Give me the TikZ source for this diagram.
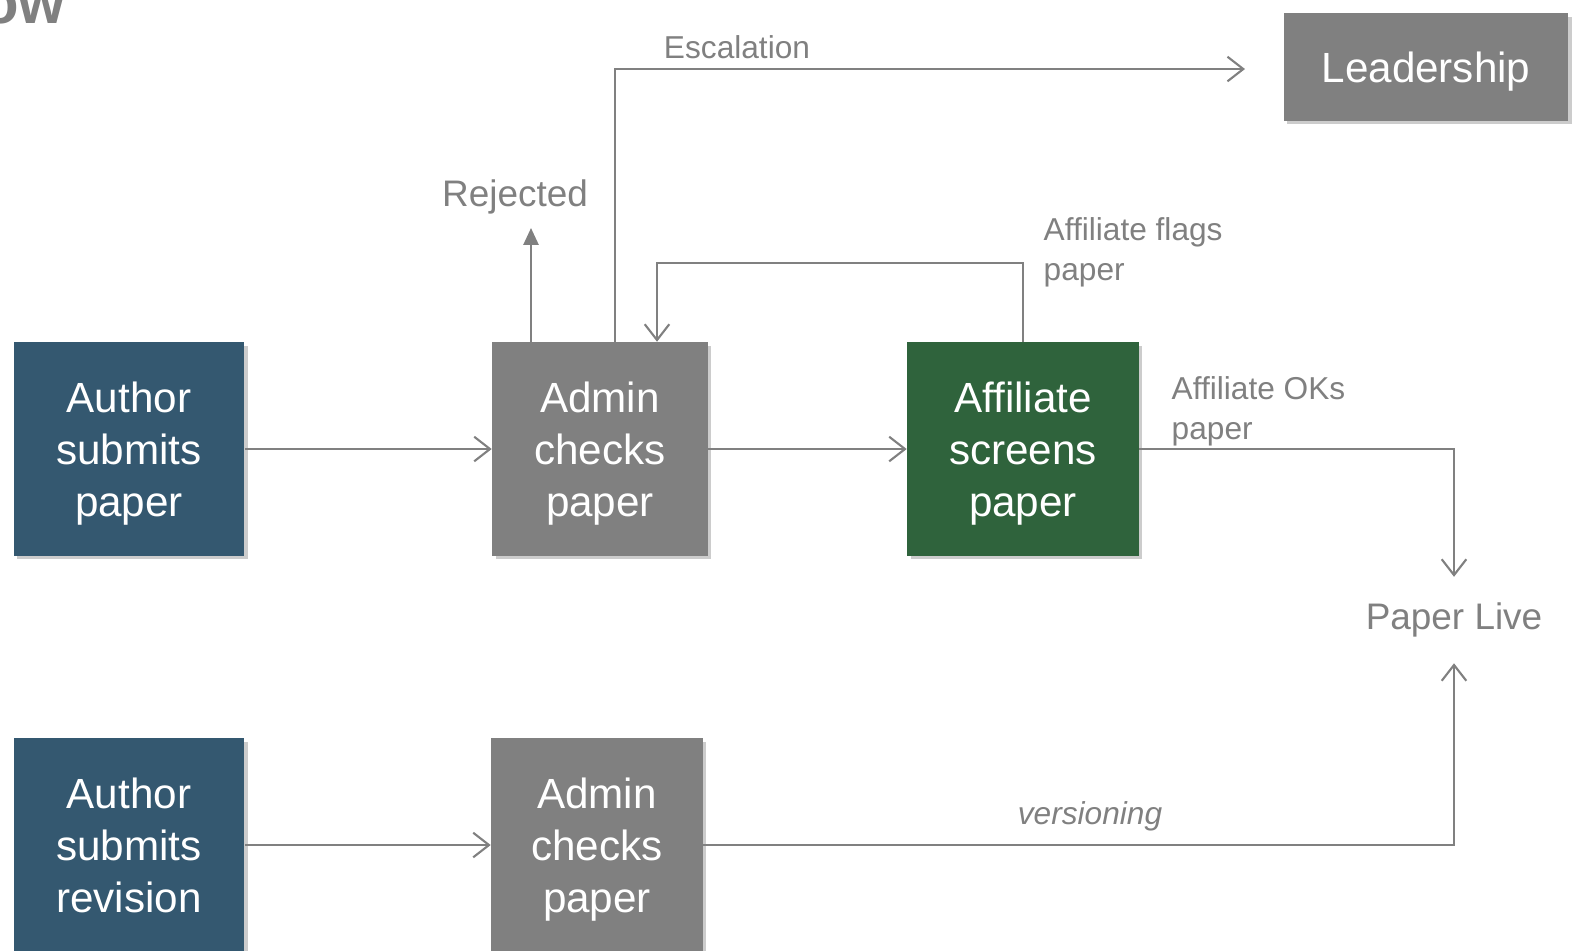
\documentclass[tikz,border=0pt]{standalone}
\usepackage{fontspec}
\setmainfont{Liberation Sans}
\usetikzlibrary{arrows.meta,shadows}

\definecolor{linegray}{RGB}{128,128,128}
\definecolor{boxgray}{RGB}{128,128,128}
\definecolor{authorblue}{RGB}{52,88,112}
\definecolor{affilgreen}{RGB}{47,99,60}

\tikzset{
  box/.style={minimum width=2.3cm, minimum height=2.13cm, inner sep=0pt,
    align=center, text=white, font=\fontsize{12}{14.8}\selectfont,
    text depth=0pt,
    drop shadow={shadow xshift=1pt, shadow yshift=-1pt, opacity=0.4}},
  flow/.style={draw=linegray, line width=0.6pt,
    -{Straight Barb[length=4.5pt,width=7pt]}},
  lbl/.style={text=linegray, font=\fontsize{9}{11.4}\selectfont, inner sep=0pt},
}

\begin{document}
\begin{tikzpicture}[x=0.01cm, y=-0.01cm]
\useasboundingbox (0,0) rectangle (1573,950);

% Titel (abgeschnitten)
\node[anchor=base east, inner sep=0pt, text=linegray,
  font=\bfseries\fontsize{17}{20}\selectfont] (title) at (66,23) {ow};

% Kaesten
\node[box, fill=authorblue] (author1) at (129,449) {Author\\submits\\paper};
\node[box, fill=boxgray, minimum width=2.15cm] (admin1) at (600,449) {Admin\\checks\\paper};
\node[box, fill=affilgreen, minimum width=2.31cm] (affil) at (1023,449) {Affiliate\\screens\\paper};
\node[box, fill=boxgray, minimum width=2.84cm, minimum height=1.07cm] (leader) at (1426,67) {Leadership};
\node[box, fill=authorblue] (author2) at (129,845) {Author\\submits\\revision};
\node[box, fill=boxgray, minimum width=2.11cm] (admin2) at (597,845) {Admin\\checks\\paper};

% Ergebnis
\node[lbl, font=\fontsize{10.5}{12}\selectfont, inner ysep=7.2pt] (live) at (1454,620) {Paper Live};

% Hauptfluss
\draw[flow] (author1) -- (admin1);
\draw[flow] (admin1) -- (affil);
\draw[flow] (author2) -- (admin2);

% Abgelehnt
\coordinate (rejtip) at (531,228);
\draw[draw=linegray, line width=0.6pt, -{Triangle[length=4.8pt,width=4.3pt]}]
  (admin1.north -| rejtip) -- (rejtip);
\node[lbl, font=\fontsize{10.5}{12}\selectfont, anchor=base] (rejected) at (515,206) {Rejected};

% Eskalation
\coordinate (esc) at (615,69);
\coordinate (escend) at (1245,69);
\draw[flow] (admin1.north -| esc) |- (escend);
\node[lbl, anchor=base] (escalation) at (737,58) {Escalation};

% Rueckweg vom Affiliate
\coordinate (flag) at (657,263);
\draw[flow] (affil.north) |- (flag) -- (admin1.north -| flag);
\node[lbl, anchor=north west, align=left] (flags) at (1043,217) {Affiliate flags\\paper};

% Freigabe
\draw[flow] (affil.east) -| (live.north);
\node[lbl, anchor=north west, align=left] (oks) at (1171,376) {Affiliate OKs\\paper};

% Versionierung
\draw[flow] (admin2.east) -| (live.south);
\node[lbl, anchor=base, font=\itshape\fontsize{9}{11.4}\selectfont] (versioning) at (1090,824) {versioning};

\end{tikzpicture}
\end{document}
